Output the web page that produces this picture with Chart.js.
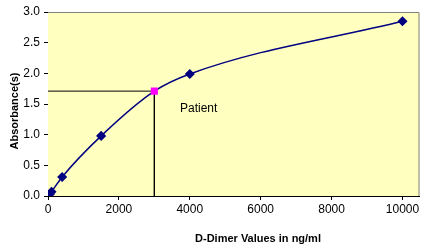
<!DOCTYPE html>
<html><head><meta charset="utf-8">
<script src="https://cdn.jsdelivr.net/npm/chart.js@4"></script>
<style>html,body{margin:0;padding:0;background:#fff;overflow:hidden}#c{display:block}</style>
</head><body>
<div style="width:421px;height:249px;overflow:hidden"><canvas id="c" width="425" height="249" style="width:425px;height:249px"></canvas></div>
<script>
const concentrations = [0, 50, 100, 400, 1500, 3000, 4000, 10000];
const absorbances   = [0, 0.03, 0.07, 0.31, 0.98, 1.71, 1.99, 2.85];
const patientX = 3000;
const patientY = 1.71;
const xTicks = [0, 2000, 4000, 6000, 8000, 10000];
const yTicks = [0, 0.5, 1.0, 1.5, 2.0, 2.5, 3.0];
const xTitle = 'D-Dimer Values in ng/ml';
const yTitle = 'Absorbance(s)';
const patientLabel = 'Patient';

const FONT = "'Liberation Sans', Arial, sans-serif";
const curve = concentrations.map((x,i)=>({x, y:absorbances[i]}));
const radii = concentrations.map(x => x===patientX ? 0 : 4);

const deco = {
  id:'deco',
  beforeDatasetsDraw(chart){
    const {ctx, chartArea:a} = chart;
    ctx.save();
    ctx.fillStyle = '#FFFFC0';
    ctx.fillRect(a.left, a.top, a.right-a.left, a.bottom-a.top);
    ctx.strokeStyle = '#808080';
    ctx.lineWidth = 1;
    ctx.beginPath();
    ctx.moveTo(a.left, a.top+0.5); ctx.lineTo(a.right-0.5, a.top+0.5); ctx.lineTo(a.right-0.5, a.bottom);
    ctx.stroke();
    ctx.restore();
  },
  afterDraw(chart){
    const {ctx, chartArea:a, scales} = chart;
    ctx.save();
    ctx.fillStyle = '#000';
    ctx.font = '12px ' + FONT;
    ctx.textAlign = 'center'; ctx.textBaseline = 'middle';
    ctx.fillText(patientLabel, scales.x.getPixelForValue(4250), scales.y.getPixelForValue(1.42));
    ctx.font = 'bold 11px ' + FONT;
    ctx.fillText(xTitle, 258, 239);
    ctx.translate(15, 111);
    ctx.rotate(-Math.PI/2);
    ctx.fillText(yTitle, 0, 0);
    ctx.restore();
  }
};

new Chart(document.getElementById('c'), {
  type:'scatter',
  data:{datasets:[
    {data:[{x:0,y:patientY},{x:patientX,y:patientY},{x:patientX,y:0}], showLine:true, borderColor:'#000', borderWidth:1, pointRadius:0, tension:0, order:3},
    {data:curve, showLine:true, borderColor:'#000080', backgroundColor:'#000080', borderWidth:1.5, cubicInterpolationMode:'monotone', pointStyle:'rectRot', pointRadius:radii, pointHoverRadius:radii, order:2},
    {data:[{x:patientX,y:patientY}], pointStyle:'rect', pointRadius:5, backgroundColor:'#FF00FF', borderColor:'#FF00FF', borderWidth:0, order:1}
  ]},
  options:{
    responsive:false, animation:false, events:[],
    layout:{padding:{top:12, right:1, left:0, bottom:0}},
    plugins:{legend:{display:false}, tooltip:{enabled:false}},
    scales:{
      x:{type:'linear', min:0, max:10480,
        afterBuildTicks: ax => { ax.ticks = xTicks.map(v=>({value:v})); },
        afterFit: ax => { ax.height = 53; },
        grid:{drawOnChartArea:false, tickLength:4, color:'#000'},
        border:{color:'#000', width:1},
        ticks:{color:'#000', font:{family:FONT, size:12}, padding:2, maxRotation:0, autoSkip:false, callback:v=>String(v)}
      },
      y:{type:'linear', min:0, max:3,
        afterBuildTicks: ax => { ax.ticks = yTicks.map(v=>({value:v})); },
        afterFit: ax => { ax.width = 48; },
        grid:{drawOnChartArea:false, tickLength:4, color:'#000'},
        border:{color:'#000', width:1},
        ticks:{color:'#000', font:{family:FONT, size:12}, padding:4, callback:v=>Number(v).toFixed(1)}
      }
    }
  },
  plugins:[deco]
});
</script>
</body></html>
